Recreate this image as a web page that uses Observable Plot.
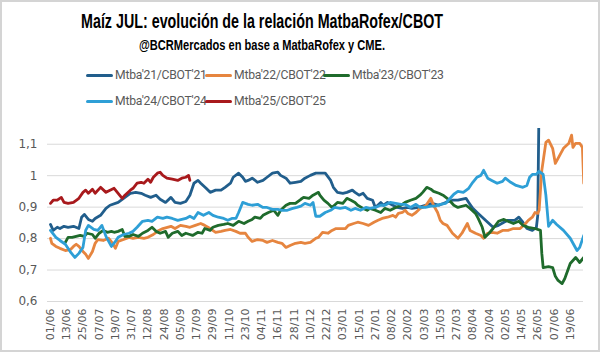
<!DOCTYPE html>
<html><head><meta charset="utf-8">
<script src="https://cdn.jsdelivr.net/npm/d3@7"></script>
<script src="https://cdn.jsdelivr.net/npm/@observablehq/plot@0.6"></script>
<style>
html,body{margin:0;padding:0;background:#fff;}
#wrap{position:relative;width:600px;height:352px;overflow:hidden;background:#fff;}
#frame{position:absolute;left:0;top:0;width:600px;height:352px;box-sizing:border-box;border:2px solid #d4d4d4;pointer-events:none;}
.head{position:absolute;left:0;width:524px;text-align:center;font-weight:bold;font-family:"Liberation Sans",Arial,sans-serif;color:#000;white-space:nowrap;}
.head span{display:inline-block;transform-origin:50% 50%;}
#title{top:10px;font-size:19.5px;}
#subtitle{top:37px;font-size:14.5px;}
.leg{position:absolute;height:14px;display:flex;align-items:center;font-family:Roboto,"Liberation Sans",sans-serif;font-size:12.2px;letter-spacing:-0.25px;color:#595959;white-space:nowrap;}
.sw{display:inline-block;width:27px;height:3px;border-radius:1.5px;margin-right:2px;}
#chart{position:absolute;left:0;top:110px;}
</style></head>
<body><div id="wrap">
<div id="title" class="head"><span></span></div><div id="subtitle" class="head"><span></span></div>
<div id="legend"></div>
<div id="chart"></div>
<div id="frame"></div>
</div>
<script>
const title = "Maíz JUL: evolución de la relación MatbaRofex/CBOT";
const subtitle = "@BCRMercados en base a MatbaRofex y CME.";
const seriesNames = ["Mtba'21/CBOT'21","Mtba'22/CBOT'22","Mtba'23/CBOT'23","Mtba'24/CBOT'24","Mtba'25/CBOT'25"];
const seriesColors = ["#215e8c","#e6853f","#1f6b2c","#2e9fd6","#a8191c"];
const tickLabels = ["01/06","13/06","25/06","07/07","19/07","31/07","12/08","24/08","05/09","17/09","29/09","11/10","23/10","04/11","16/11","28/11","10/12","22/12","03/01","15/01","27/01","08/02","20/02","03/03","15/03","27/03","08/04","20/04","02/05","14/05","26/05","07/06","19/06"];
const yTicks = [0.6,0.7,0.8,0.9,1.0,1.1];

// [days since 01/06, ratio]
const mtba21 = [[0,0.845],[2,0.826],[5,0.836],[7,0.832],[10,0.839],[13,0.836],[17,0.839],[21,0.832],[23,0.868],[25,0.877],[28,0.861],[31,0.855],[33,0.864],[37,0.874],[41,0.896],[44,0.906],[50,0.915],[54,0.928],[59,0.944],[63,0.947],[67,0.944],[70,0.938],[74,0.931],[78,0.938],[81,0.925],[85,0.915],[89,0.931],[92,0.915],[96,0.912],[100,0.918],[103,0.938],[106,0.976],[109,0.985],[111,0.976],[115,0.960],[118,0.947],[122,0.954],[126,0.954],[129,0.963],[133,0.976],[135,0.995],[139,1.008],[142,0.995],[144,0.982],[146,0.985],[149,0.992],[153,0.979],[157,0.985],[160,0.995],[164,1.008],[168,1.011],[170,1.001],[174,0.992],[177,0.976],[181,0.979],[185,0.982],[188,0.992],[192,1.001],[196,1.008],[199,1.008],[203,1.008],[207,0.985],[209,0.963],[212,0.947],[216,0.944],[219,0.947],[223,0.954],[225,0.947],[228,0.938],[231,0.944],[234,0.928],[238,0.922],[240,0.899],[244,0.915],[246,0.906],[249,0.915],[253,0.906],[256,0.899],[260,0.896],[264,0.899],[267,0.896],[272,0.899],[277,0.906],[282,0.912],[287,0.906],[292,0.915],[297,0.922],[301,0.922],[307,0.928],[309,0.915],[312,0.896],[316,0.880],[320,0.864],[324,0.848],[327,0.836],[331,0.842],[335,0.852],[338,0.858],[343,0.858],[346,0.868],[349,0.852],[352,0.832],[356,0.826],[359,0.836],[360,0.874],[361,1.25]];
const mtba22 = [[0,0.801],[1,0.785],[4,0.775],[7,0.769],[11,0.762],[15,0.766],[17,0.775],[19,0.782],[21,0.775],[24,0.759],[26,0.750],[28,0.737],[31,0.759],[33,0.785],[35,0.797],[39,0.794],[43,0.801],[46,0.785],[48,0.769],[50,0.791],[54,0.797],[58,0.804],[61,0.801],[65,0.804],[69,0.801],[72,0.804],[76,0.813],[80,0.826],[83,0.832],[89,0.839],[92,0.832],[96,0.842],[100,0.839],[103,0.836],[107,0.842],[111,0.848],[114,0.842],[118,0.832],[122,0.820],[126,0.823],[129,0.826],[133,0.829],[137,0.823],[140,0.817],[144,0.817],[146,0.804],[149,0.791],[153,0.797],[157,0.794],[160,0.788],[164,0.794],[168,0.788],[171,0.785],[174,0.772],[177,0.778],[181,0.785],[185,0.788],[188,0.785],[192,0.788],[196,0.801],[198,0.804],[201,0.820],[205,0.817],[208,0.826],[211,0.832],[214,0.832],[218,0.832],[220,0.842],[224,0.848],[227,0.852],[231,0.848],[235,0.842],[239,0.852],[242,0.858],[245,0.864],[249,0.868],[253,0.874],[255,0.868],[257,0.880],[260,0.883],[262,0.890],[264,0.880],[267,0.874],[270,0.883],[273,0.896],[277,0.903],[281,0.928],[283,0.906],[286,0.883],[288,0.858],[290,0.848],[293,0.842],[297,0.817],[301,0.801],[304,0.817],[308,0.848],[310,0.826],[314,0.817],[318,0.810],[320,0.801],[323,0.817],[326,0.820],[330,0.817],[334,0.826],[338,0.826],[342,0.832],[347,0.832],[351,0.848],[353,0.858],[356,0.868],[358,0.883],[360,0.880],[361,0.890],[363,1.017],[366,1.106],[368,1.113],[371,1.087],[373,1.039],[375,1.055],[379,1.087],[383,1.103],[385,1.129],[386,1.090],[388,1.103],[391,1.103],[393,1.090],[394,0.976]];
const mtba23 = [[11,0.788],[13,0.804],[16,0.804],[19,0.807],[22,0.810],[25,0.807],[27,0.817],[31,0.813],[33,0.801],[36,0.817],[39,0.826],[42,0.820],[45,0.823],[47,0.820],[50,0.823],[53,0.829],[55,0.807],[58,0.807],[61,0.813],[65,0.807],[68,0.817],[72,0.826],[75,0.836],[78,0.823],[81,0.817],[85,0.823],[87,0.804],[90,0.817],[94,0.823],[97,0.810],[100,0.817],[103,0.813],[105,0.810],[109,0.820],[112,0.817],[114,0.832],[118,0.826],[120,0.836],[124,0.842],[128,0.845],[131,0.848],[135,0.842],[139,0.855],[143,0.848],[146,0.855],[149,0.861],[151,0.868],[155,0.864],[157,0.874],[161,0.883],[165,0.890],[168,0.874],[170,0.890],[174,0.906],[177,0.912],[181,0.912],[185,0.925],[187,0.931],[191,0.928],[194,0.938],[198,0.947],[199,0.938],[202,0.922],[205,0.912],[208,0.899],[212,0.915],[216,0.912],[219,0.928],[222,0.922],[225,0.915],[227,0.906],[231,0.896],[234,0.890],[236,0.896],[240,0.890],[244,0.883],[247,0.896],[251,0.890],[255,0.899],[259,0.906],[262,0.915],[266,0.922],[270,0.928],[273,0.938],[275,0.947],[278,0.963],[281,0.957],[283,0.950],[287,0.944],[290,0.938],[294,0.925],[298,0.906],[301,0.899],[307,0.906],[310,0.896],[314,0.880],[316,0.864],[319,0.836],[321,0.804],[324,0.817],[327,0.832],[331,0.855],[335,0.861],[338,0.855],[342,0.848],[346,0.855],[349,0.842],[353,0.836],[358,0.832],[362,0.826],[363,0.753],[364,0.708],[368,0.711],[371,0.708],[373,0.680],[375,0.667],[378,0.657],[380,0.673],[384,0.721],[388,0.740],[391,0.724],[394,0.740]];
const mtba24 = [[0,0.826],[4,0.804],[7,0.794],[11,0.782],[15,0.756],[18,0.740],[21,0.753],[24,0.772],[26,0.826],[28,0.842],[32,0.829],[35,0.826],[38,0.842],[41,0.807],[43,0.791],[45,0.775],[48,0.791],[50,0.804],[54,0.813],[58,0.817],[61,0.823],[64,0.836],[68,0.855],[72,0.858],[75,0.855],[79,0.868],[83,0.864],[86,0.868],[90,0.864],[94,0.858],[97,0.861],[100,0.864],[103,0.871],[106,0.864],[109,0.883],[113,0.874],[117,0.883],[120,0.874],[124,0.868],[128,0.864],[131,0.858],[134,0.864],[137,0.864],[139,0.883],[142,0.915],[146,0.909],[149,0.906],[153,0.909],[157,0.899],[160,0.899],[164,0.893],[168,0.893],[171,0.890],[175,0.890],[179,0.896],[182,0.899],[185,0.903],[188,0.912],[192,0.906],[194,0.915],[196,0.871],[199,0.871],[203,0.883],[207,0.890],[210,0.899],[214,0.896],[218,0.899],[222,0.890],[225,0.896],[229,0.890],[233,0.899],[236,0.896],[240,0.899],[244,0.906],[247,0.906],[251,0.915],[255,0.912],[259,0.909],[262,0.909],[266,0.899],[270,0.909],[273,0.899],[277,0.899],[281,0.903],[284,0.903],[288,0.909],[292,0.912],[294,0.922],[298,0.941],[301,0.950],[305,0.947],[309,0.960],[312,0.979],[315,0.995],[318,1.001],[320,1.017],[323,0.992],[326,0.985],[330,0.976],[334,0.982],[336,0.992],[340,0.979],[344,0.969],[349,0.963],[352,0.969],[354,0.995],[356,1.004],[359,1.004],[361,1.014],[364,1.004],[366,0.938],[368,0.839],[371,0.858],[374,0.845],[379,0.826],[384,0.801],[389,0.762],[391,0.772],[394,0.810]];
const mtba25 = [[0,0.912],[2,0.922],[5,0.922],[8,0.931],[10,0.915],[13,0.912],[17,0.915],[21,0.928],[24,0.947],[26,0.954],[28,0.944],[31,0.957],[33,0.944],[37,0.963],[41,0.947],[44,0.954],[47,0.960],[50,0.944],[53,0.928],[55,0.938],[59,0.954],[61,0.960],[64,0.976],[67,0.979],[69,0.976],[72,0.989],[74,0.979],[76,0.995],[79,1.008],[81,1.011],[83,1.001],[86,0.992],[90,0.989],[94,0.985],[97,0.992],[100,0.995],[102,1.001],[103,0.985]];

const base = Date.UTC(2023,5,1);
const toDate = d => new Date(base + d*864e5);

// tick labels dd/mm -> dates (year increments when month wraps)
let yr = 2023, prevM = 0;
const tickDates = tickLabels.map(s => {
  const [dd, mm] = s.split("/").map(Number);
  if (mm < prevM) yr++;
  prevM = mm;
  return new Date(Date.UTC(yr, mm-1, dd));
});
const labelOf = new Map(tickDates.map((d,i)=>[+d, tickLabels[i]]));

const allSeries = [mtba21, mtba22, mtba23, mtba24, mtba25];
const rows = [];
allSeries.forEach((s, i) => s.forEach(([d, v]) => rows.push({date: toDate(d), value: v, serie: seriesNames[i]})));

function fitText(id, text, targetW) {
  const sp = document.querySelector("#" + id + " span");
  sp.textContent = text;
  const w = sp.getBoundingClientRect().width;
  sp.style.transform = `scaleX(${targetW / w})`;
}
fitText("title", title, 362);
fitText("subtitle", subtitle, 246);

// legend
const legPos = [[86,68],[205,68],[323,68],[86,94],[205,94]];
const legend = document.getElementById("legend");
seriesNames.forEach((n,i)=>{
  const el = document.createElement("div");
  el.className = "leg";
  el.style.left = legPos[i][0]+"px";
  el.style.top = legPos[i][1]+"px";
  el.innerHTML = `<span class="sw" style="background:${seriesColors[i]}"></span><span>${n}</span>`;
  legend.appendChild(el);
});

const chart = Plot.plot({
  width: 600,
  height: 240,
  marginLeft: 47,
  marginRight: 17,
  marginTop: 18,
  marginBottom: 49,
  style: {fontFamily: "'DejaVu Sans', 'Liberation Sans', sans-serif", color: "#595959", background: "transparent"},
  x: {type: "utc", domain: [toDate(-2.2), toDate(393.8)]},
  y: {domain: [0.6, 1.15]},
  color: {domain: seriesNames, range: seriesColors},
  marks: [
    Plot.gridY(yTicks, {stroke: "#d9d9d9", strokeOpacity: 1, strokeWidth: 1}),
    Plot.axisY(yTicks, {tickSize: 0, tickPadding: 10, fontSize: 12, fill: "#595959", label: null,
      tickFormat: d => d3.format(".1~f")(d).replace(".", ",")}),
    Plot.axisX(tickDates, {tickSize: 0, tickPadding: 7, tickRotate: -90, fontSize: 11, fill: "#595959", label: null,
      tickFormat: d => labelOf.get(+d)}),
    Plot.lineY(rows, {x: "date", y: "value", z: "serie", stroke: "serie", strokeWidth: 2.8, clip: true, strokeLinejoin: "round", strokeLinecap: "round"})
  ]
});
document.getElementById("chart").appendChild(chart);
</script>
</body></html>
